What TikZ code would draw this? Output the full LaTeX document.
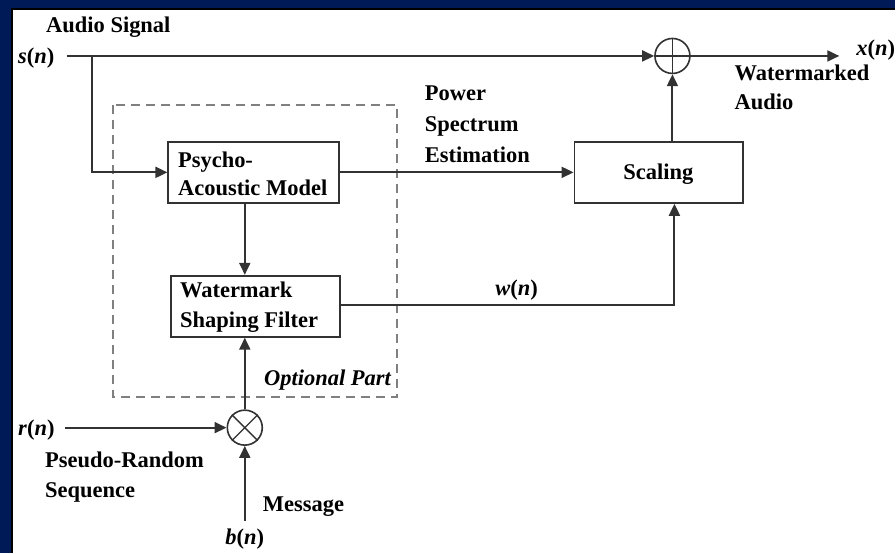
\documentclass[tikz,border=0pt]{standalone}
\usepackage{fontspec}
\setmainfont{Liberation Serif}
\usetikzlibrary{arrows.meta}
\definecolor{navy}{RGB}{0,26,88}
\definecolor{ln}{RGB}{50,50,50}
\begin{document}
\begin{tikzpicture}[x=1pt,y=-1pt,
  txt/.style={font=\fontsize{22.5}{24}\selectfont\bfseries, inner sep=0pt, text=black},
  blk/.style={draw=ln, line width=1.9pt, fill=white, inner sep=0pt},
  conn/.style={draw=ln, line width=1.9pt},
  arr/.style={conn, -{Triangle[length=12pt,width=11pt]}},
  op/.style={circle, draw=ln, line width=1.6pt, minimum size=35pt, inner sep=0pt}]
\fill[navy] (0,0) rectangle (896,553);
\fill[white] (12,9) rectangle (896,553);
\draw[black, line width=1.5pt] (12,553) -- (12,9) -- (896,9);
\useasboundingbox (0,0) rectangle (896,553);

% dashed optional box
\draw[gray, line width=1.8pt, dash pattern=on 9pt off 6pt] (113,105) rectangle (397,397);

% blocks
\node[blk, minimum width=171pt, minimum height=61pt] (psy) at (254,172.5) {};
\node[txt, anchor=west, align=left, font=\fontsize{22.5}{28}\selectfont\bfseries] at (178,174) {Psycho-\\Acoustic Model};
\node[blk, minimum width=169pt, minimum height=61pt] (wsf) at (255.5,306.5) {};
\node[txt, anchor=west, align=left, font=\fontsize{22.5}{30}\selectfont\bfseries] at (180,307) {Watermark\\Shaping Filter};
\node[blk, minimum width=169pt, minimum height=61pt] (scl) at (659.5,172.5) {};
\node[txt] at (659,174) {Scaling};

\node[op] (sum) at (673,56) {};
\draw[ln, line width=1.3pt] (sum.north) -- (sum.south) (sum.west) -- (sum.east);
\node[op] (mul) at (245,428) {};
\draw[ln, line width=1.3pt] (mul.north west) -- (mul.south east) (mul.north east) -- (mul.south west);

% coordinates
\coordinate (sin) at (67,56);
\coordinate (br) at (92,56);
\coordinate (xout) at (840,56);
\coordinate (rin) at (65,428);
\coordinate (bin) at (245,521);
\coordinate (wc) at (675,305);

% connectors
\draw[arr] (sin) -- (sum);
\draw[arr] (br) |- (psy.west);
\draw[arr] (sum) -- (xout);
\draw[arr] (psy.east) -- (scl.west);
\draw[arr] (psy.south -| mul) -- (wsf.north -| mul);
\draw[arr] (scl.north -| sum) -- (sum);
\draw[arr] (wsf.east |- wc) -- (wc) -- (scl.south -| wc);
\draw[arr] (rin) -- (mul);
\draw[arr] (bin) -- (mul);
\draw[arr] (mul) -- (wsf.south -| mul);

% labels
\node[txt, anchor=west] at (46,27) {Audio Signal};
\node[txt, anchor=west] at (18,58) {\textit{s}(\textit{n})};
\node[txt, anchor=west] at (857,50) {\textit{x}(\textit{n})};
\node[txt, anchor=west, align=left, font=\fontsize{22.5}{29}\selectfont\bfseries] at (735,87) {Watermarked\\Audio};
\node[txt, anchor=west, align=left, font=\fontsize{22.5}{31}\selectfont\bfseries] at (425,124) {Power\\Spectrum\\Estimation};
\node[txt] at (517,290) {\textit{w}(\textit{n})};
\node[txt, anchor=east] at (392,380) {\textit{Optional Part}};
\node[txt, anchor=west] at (18,430) {\textit{r}(\textit{n})};
\node[txt, anchor=west, align=left, font=\fontsize{22.5}{30}\selectfont\bfseries] at (45,477) {Pseudo-Random\\Sequence};
\node[txt, anchor=west] at (263,507) {Message};
\node[txt] at (245,540) {\textit{b}(\textit{n})};
\end{tikzpicture}
\end{document}
